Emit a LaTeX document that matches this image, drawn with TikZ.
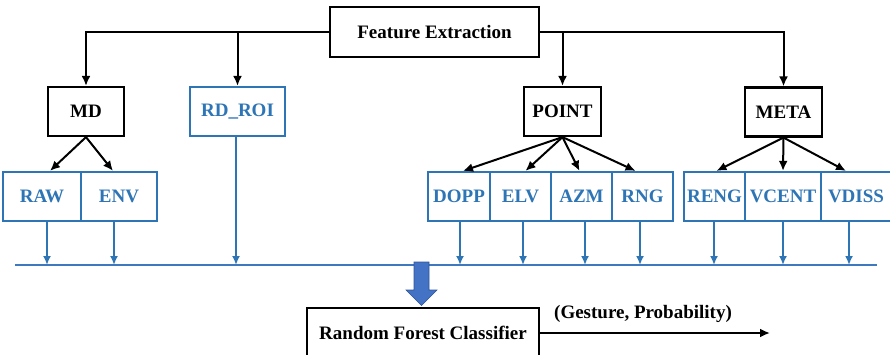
\documentclass[tikz,border=0pt]{standalone}
\usepackage{fontspec}
\setmainfont{Liberation Serif}
\usetikzlibrary{arrows.meta}
\definecolor{featblue}{HTML}{2E75B6}
\definecolor{busblue}{HTML}{3E78BE}
\definecolor{blockblue}{HTML}{4472C4}
\definecolor{blockedge}{HTML}{2F5597}
\begin{document}
\begin{tikzpicture}[x=1pt,y=-1pt,
  every node/.style={font=\fontsize{19}{22}\selectfont\bfseries, inner sep=0pt},
  blackbox/.style={draw=black, line width=2.2pt, fill=white},
  bluebox/.style={draw=featblue, line width=2.2pt, text=featblue, fill=white, minimum height=49pt},
  tree/.style={draw=black, line width=2pt, -{Latex[length=10pt,width=9pt]}},
  feed/.style={draw=featblue, line width=1.9pt, -{Latex[length=9pt,width=8pt]}}
]
\useasboundingbox (0,0) rectangle (890,354);

% top-level block
\node[blackbox, minimum width=209pt, minimum height=50pt] (feat) at (434.5,32) {Feature Extraction};

% feature groups
\node[blackbox, minimum width=76pt, minimum height=49pt] (md) at (86,111.5) {MD};
\node[bluebox, minimum width=95pt] (rdroi) at (237.5,111.5) {RD\_ROI};
\node[blackbox, minimum width=77pt, minimum height=49pt] (point) at (562.5,111.5) {POINT};
\node[blackbox, minimum width=77pt, minimum height=49pt] (meta) at (783.5,112) {META};

% individual features
\node[bluebox, minimum width=78pt] (raw) at (42,196.5) {RAW};
\node[bluebox, minimum width=76pt] (env) at (119,196.5) {ENV};
\node[bluebox, minimum width=62pt] (dopp) at (459,196.5) {DOPP};
\node[bluebox, minimum width=61pt] (elv) at (520.5,196.5) {ELV};
\node[bluebox, minimum width=61pt] (azm) at (581.5,196.5) {AZM};
\node[bluebox, minimum width=61pt] (rng) at (642.5,196.5) {RNG};
\node[bluebox, minimum width=61pt] (reng) at (714.5,196.5) {RENG};
\node[bluebox, minimum width=76pt] (vcent) at (783,196.5) {VCENT};
\node[bluebox, minimum width=70pt] (vdiss) at (856,196.5) {VDISS};

% classifier and its output
\node[blackbox, minimum width=232pt, minimum height=50pt] (rfc) at (423,333) {Random Forest Classifier};
\coordinate (out) at (770,333);
\node (outlbl) at (643,314) {(Gesture, Probability)};

% collecting bus
\coordinate (busL) at (15,265);
\coordinate (busR) at (877,265);
\draw[busblue, line width=2.2pt] (busL) -- (busR);

% tree connectors
\draw[tree] (feat.west) -| (md.north);
\draw[tree] (rdroi.north |- feat.west) -- (rdroi.north);
\draw[tree] (feat.east) -| (meta.north);
\draw[tree] (point.north |- feat.east) -- (point.north);

\draw[tree] (md.south) -- ([xshift=8pt]raw.north);
\draw[tree] (md.south) -- ([xshift=-6pt]env.north);
\draw[tree] (point.south) -- ([xshift=4pt]dopp.north);
\draw[tree] (point.south) -- ([xshift=5pt]elv.north);
\draw[tree] (point.south) -- ([xshift=-2pt]azm.north);
\draw[tree] (point.south) -- ([xshift=-7pt]rng.north);
\draw[tree] (meta.south) -- ([xshift=2pt]reng.north);
\draw[tree] (meta.south) -- (vcent.north);
\draw[tree] (meta.south) -- ([xshift=-10pt]vdiss.north);

% features feeding the bus
\foreach \n/\dx in {raw/5, env/-5, rdroi/-1.5, dopp/1, elv/2.5, azm/3.5, rng/-2.5, reng/-0.5, vcent/0, vdiss/-7}{
  \draw[feed] ([xshift=\dx pt]\n.south) -- ([xshift=\dx pt]\n.south |- busL);
}

% block arrow into the classifier
\fill[blockblue, draw=blockedge, line width=0.6pt]
  (414,262) -- (429,262) -- (429,290) -- (437,290) -- (421.5,305.5)
  -- (406,290) -- (414,290) -- cycle;

% classifier output
\draw[tree] (rfc.east) -- (out);
\end{tikzpicture}
\end{document}
